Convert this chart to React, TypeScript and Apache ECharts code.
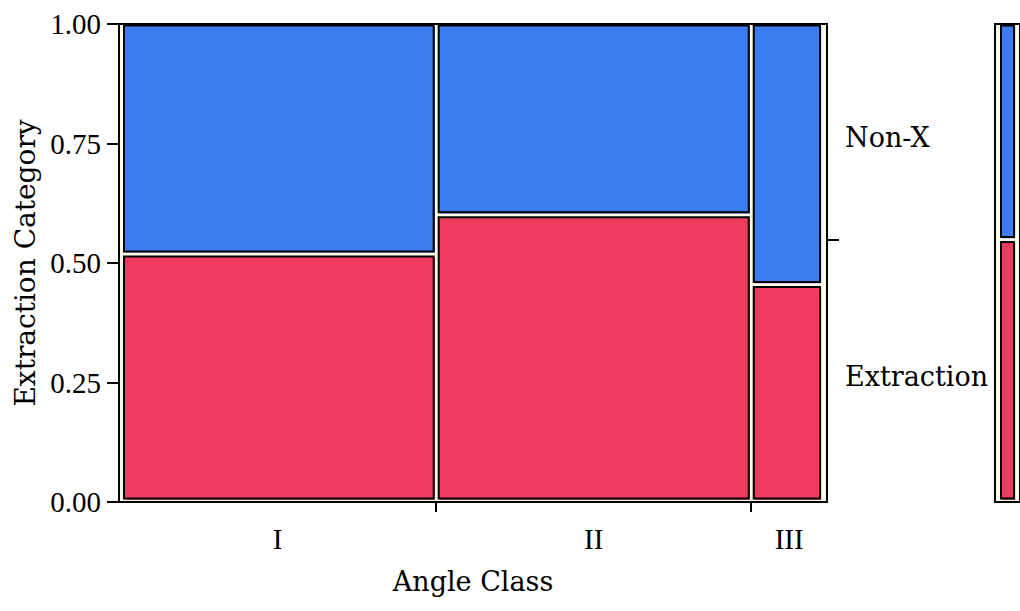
import React, { useEffect, useRef } from "react";
import * as echarts from "echarts";

const categories = ["I", "II", "III"];
const classShare = [0.448, 0.445, 0.107];
const extractionShare = [0.519, 0.601, 0.455];
const responseLevels = ["Extraction", "Non-X"];
const overallExtraction = 0.549;
const yTicks = [0, 0.25, 0.5, 0.75, 1];

const COLORS = ["#EE3A5C", "#3B7DEE"];
const FONT = "DejaVu Serif";
const NUMFONT = "Liberation Serif";

function makeRenderer(ins: { l: number; r: number; t: number; b: number; inner: number }) {
  return (params: any, api: any) => {
    const x0 = api.value(0);
    const x1 = api.value(1);
    const y0 = api.value(2);
    const y1 = api.value(3);
    const ci = api.value(4);
    const a = api.coord([x0, y1]);
    const b = api.coord([x1, y0]);
    const il = x0 <= 0.0001 ? ins.l : ins.inner;
    const ir = x1 >= 0.9999 ? ins.r : ins.inner;
    const it = y1 >= 0.9999 ? ins.t : ins.inner;
    const ib = y0 <= 0.0001 ? ins.b : ins.inner;
    const x = a[0] + il;
    const y = a[1] + it;
    const w = b[0] - a[0] - il - ir;
    const h = b[1] - a[1] - it - ib;
    const color = COLORS[ci];
    return {
      type: "group",
      children: [
        {
          type: "rect",
          shape: { x: x + 1.2, y: y + 1.2, width: w, height: h },
          style: { fill: color },
        },
        {
          type: "rect",
          shape: { x, y, width: w, height: h },
          style: { fill: color, stroke: "#000", lineWidth: 2 },
        },
      ],
    };
  };
}

export default function App() {
  const ref = useRef<HTMLDivElement>(null);
  useEffect(() => {
    if (!ref.current) return;
    const chart = echarts.init(ref.current, undefined, { renderer: "svg" });

    const cells: number[][] = [];
    const boundaries: number[] = [];
    const centers: number[] = [];
    let cum = 0;
    classShare.forEach((s, i) => {
      const x0 = cum;
      const x1 = cum + s;
      cells.push([x0, x1, 0, extractionShare[i], 0]);
      cells.push([x0, x1, extractionShare[i], 1, 1]);
      centers.push((x0 + x1) / 2);
      if (i < classShare.length - 1) boundaries.push(x1);
      cum = x1;
    });
    const margCells = [
      [0, 1, 0, overallExtraction, 0],
      [0, 1, overallExtraction, 1, 1],
    ];
    const respCenters = [overallExtraction / 2, (overallExtraction + 1) / 2];

    const option: any = {
      animation: false,
      textStyle: { fontFamily: FONT, color: "#000" },
      grid: [
        {
          left: 119,
          top: 24,
          width: 708,
          height: 478,
          show: true,
          borderColor: "#000",
          borderWidth: 2,
          backgroundColor: "#fdfbea",
        },
        {
          left: 995,
          top: 24,
          width: 26,
          height: 478,
          show: true,
          borderColor: "#000",
          borderWidth: 2,
          backgroundColor: "#fdfbea",
        },
      ],
      xAxis: [
        {
          type: "value",
          gridIndex: 0,
          min: 0,
          max: 1,
          axisLine: { show: false },
          splitLine: { show: false },
          axisTick: {
            show: true,
            length: 10,
            customValues: boundaries,
            lineStyle: { color: "#000", width: 2 },
          },
          axisLabel: {
            customValues: centers,
            margin: 22,
            fontSize: 29,
            fontFamily: NUMFONT,
            color: "#000",
            formatter: (v: number) => {
              let best = 0;
              centers.forEach((c, i) => {
                if (Math.abs(c - v) < Math.abs(centers[best] - v)) best = i;
              });
              return categories[best];
            },
          },
          name: "Angle Class",
          nameLocation: "middle",
          nameGap: 66,
          nameTextStyle: { fontSize: 27, fontFamily: FONT, color: "#000" },
        },
        {
          type: "value",
          gridIndex: 1,
          min: 0,
          max: 1,
          show: false,
        },
      ],
      yAxis: [
        {
          type: "value",
          gridIndex: 0,
          min: 0,
          max: 1,
          interval: 0.25,
          position: "left",
          axisLine: { show: false },
          splitLine: { show: false },
          axisTick: {
            show: true,
            length: 12,
            customValues: yTicks,
            lineStyle: { color: "#000", width: 2 },
          },
          axisLabel: {
            customValues: yTicks,
            margin: 18,
            fontSize: 29,
            fontFamily: NUMFONT,
            color: "#000",
            formatter: (v: number) => v.toFixed(2),
          },
          name: "Extraction Category",
          nameLocation: "middle",
          nameGap: 76,
          nameTextStyle: { fontSize: 28, fontFamily: FONT, color: "#000" },
        },
        {
          type: "value",
          gridIndex: 0,
          min: 0,
          max: 1,
          position: "right",
          axisLine: { show: false },
          splitLine: { show: false },
          axisTick: {
            show: true,
            length: 12,
            customValues: [overallExtraction],
            lineStyle: { color: "#000", width: 2 },
          },
          axisLabel: {
            customValues: respCenters,
            margin: 18,
            color: "#000",
            formatter: (v: number) =>
              "{a|" +
              (Math.abs(v - respCenters[0]) < Math.abs(v - respCenters[1])
                ? responseLevels[0]
                : responseLevels[1]) +
              "}",
            rich: {
              a: {
                fontSize: 27,
                fontFamily: FONT,
                color: "#000",
                padding: [11, 0, 0, 0],
              },
            },
          },
        },
        {
          type: "value",
          gridIndex: 1,
          min: 0,
          max: 1,
          show: false,
        },
      ],
      series: [
        {
          type: "custom",
          xAxisIndex: 0,
          yAxisIndex: 0,
          data: cells,
          renderItem: makeRenderer({ l: 5, r: 7, t: 1.5, b: 3.5, inner: 2.5 }),
          z: 3,
        },
        {
          type: "custom",
          xAxisIndex: 1,
          yAxisIndex: 2,
          data: margCells,
          renderItem: makeRenderer({ l: 6, r: 6, t: 1.5, b: 3.5, inner: 2.5 }),
          z: 3,
        },
      ],
    };
    chart.setOption(option);
    return () => chart.dispose();
  }, []);
  return (
    <div
      ref={ref}
      style={{ position: "absolute", left: 0, top: 0, width: 1020, height: 611, background: "#fff" }}
    />
  );
}
